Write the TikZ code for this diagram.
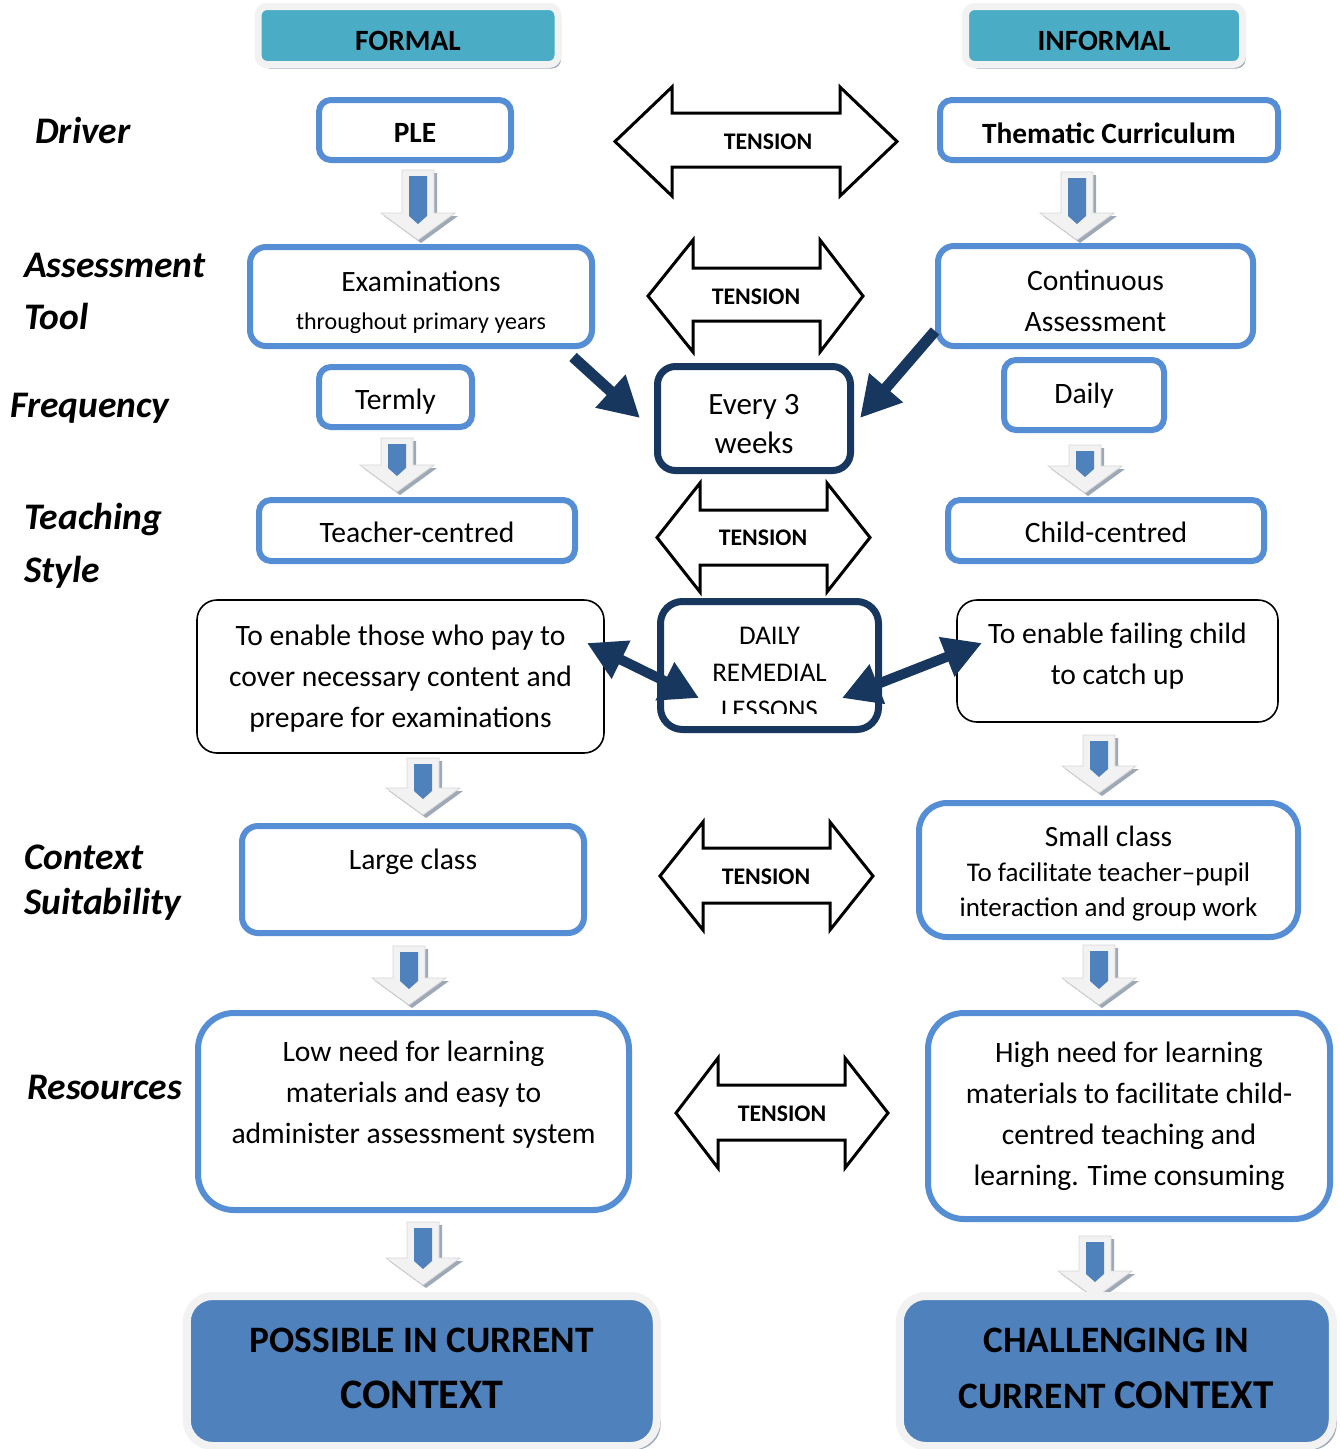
\documentclass[tikz,border=0pt]{standalone}
\usepackage{fontspec}
\setmainfont{Carlito}
\usetikzlibrary{arrows.meta,shadows}
\definecolor{bblue}{HTML}{558ED5}
\definecolor{navy}{HTML}{17375E}
\definecolor{tealhdr}{HTML}{4BACC6}
\definecolor{fillblue}{HTML}{4F81BD}
\definecolor{shgrey}{HTML}{9EA9B8}
\definecolor{lightg}{HTML}{F2F2F2}
\definecolor{edgeg}{HTML}{D6D6D6}
\newcommand\fs[2]{\fontsize{#1}{#2}\selectfont}
% down block arrow: centre x, top y, bottom y
\newcommand\dnarrow[3]{%
  \pgfmathsetmacro\dnL{#3-#2}%
  \pgfmathsetmacro\dnH{\dnL-27}%
  \begin{scope}[shift={(#1,#2)}]
    \fill[shgrey,shift={(3,3)}] (-16,0) -- (16,0) -- (16,\dnH) -- (37,\dnH) -- (0,\dnL) -- (-37,\dnH) -- (-16,\dnH) -- cycle;
    \filldraw[fill=lightg,draw=edgeg,line width=0.8pt] (-16,0) -- (16,0) -- (16,\dnH) -- (37,\dnH) -- (0,\dnL) -- (-37,\dnH) -- (-16,\dnH) -- cycle;
    \fill[fillblue] (-9,6) -- (9,6) -- (9,\dnL-24) -- (0,\dnL-16) -- (-9,\dnL-24) -- cycle;
  \end{scope}}
% double block arrow: xl, xr, ytop, ybot, shaft top, shaft bottom, notch left, notch right
\newcommand\tension[8]{%
  \pgfmathsetmacro\tm{(#3+#4)/2}%
  \draw[tens] (#1,\tm) -- (#7,#3) -- (#7,#5) -- (#8,#5) -- (#8,#3) -- (#2,\tm) -- (#8,#4) -- (#8,#6) -- (#7,#6) -- (#7,#4) -- cycle;}
\begin{document}
\begin{tikzpicture}[x=1pt,y=-1pt,
  bbox/.style={draw=bblue,line width=6pt,rounded corners=12pt,fill=white,inner sep=0pt},
  nbox/.style={draw=navy,line width=7pt,rounded corners=18pt,fill=white,inner sep=0pt},
  kbox/.style={draw=black,line width=1.6pt,rounded corners=20pt,fill=white,inner sep=0pt},
  hdr/.style={fill=tealhdr,draw=lightg,line width=7pt,rounded corners=9pt,inner sep=0pt,
    drop shadow={shadow xshift=3pt,shadow yshift=-4pt,fill=shgrey,opacity=1}},
  bot/.style={fill=fillblue,draw=lightg,line width=8pt,rounded corners=26pt,inner sep=0pt,
    drop shadow={shadow xshift=4pt,shadow yshift=-4pt,fill=shgrey,opacity=1}},
  lbl/.style={anchor=base west,inner sep=0pt,font=\bfseries\itshape\fs{37.5}{40}},
  txt/.style={inner sep=0pt,align=center,font=\fs{29.6}{41}},
  btxt/.style={inner sep=0pt,align=center,font=\bfseries\fs{29.4}{35}},
  bigtxt/.style={inner sep=0pt,align=center,font=\bfseries\fs{37.3}{56}},
  tens/.style={draw=black,fill=white,line width=3pt,line join=miter},
  tlabel/.style={inner sep=0pt,font=\bfseries\fs{23.8}{28}},
  darr/.style={draw=navy,line width=11pt,-{Triangle[length=40pt,width=42pt]}},
  ddarr/.style={draw=navy,line width=10pt,{Triangle[length=38pt,width=40pt]}-{Triangle[length=38pt,width=40pt]}}
]
\useasboundingbox (0,0) rectangle (1340,1449);
\fill[white] (0,0) rectangle (1340,1449);

% headers
\node[hdr,minimum width=300,minimum height=58] (formal) at (408,35.5) {};
\node[btxt] (formaltext) at (408,40.5) {FORMAL};
\node[hdr,minimum width=277,minimum height=58] (informal) at (1104,35.5) {};
\node[btxt] (informaltext) at (1104,40.5) {INFORMAL};

% row labels
\node[lbl] (ldriver) at (35,143) {Driver};
\node[lbl] (lassess) at (24,277) {Assessment};
\node[lbl] (ltool) at (24,329) {Tool};
\node[lbl] (lfreq) at (10,417) {Frequency};
\node[lbl] (lteach) at (24,529) {Teaching};
\node[lbl] (lstyle) at (24,582) {Style};
\node[lbl] (lcontext) at (24,869) {Context};
\node[lbl] (lsuit) at (24,914) {Suitability};
\node[lbl] (lres) at (27,1099) {Resources};

% down arrows
\dnarrow{418}{170}{240}
\dnarrow{1077}{172}{240}
\dnarrow{397}{438}{492}
\dnarrow{1085}{445}{493}
\dnarrow{423}{758}{815}
\dnarrow{1099}{735}{793}
\dnarrow{409}{946}{1005}
\dnarrow{1099}{945}{1005}
\dnarrow{423}{1222}{1285}
\dnarrow{1095}{1236}{1298}

% driver row
\node[bbox,minimum width=192,minimum height=60] (ple) at (415,130) {};
\node[btxt] (pletext) at (415,133) {PLE};
\node[bbox,minimum width=338,minimum height=60] (thematic) at (1109,130) {};
\node[btxt] (thematictext) at (1109,133) {Thematic Curriculum};
\tension{615}{897}{87}{196}{113}{167}{672}{840}
\node[tlabel] (t1) at (768,142) {TENSION};

% assessment row
\node[bbox,minimum width=342,minimum height=99,rounded corners=16pt] (exam) at (421,296.5) {};
\node[txt,font=\fs{29.5}{38}] (examtext) at (421,302.5) {Examinations\\{\fs{24}{38}throughout primary years}};
\node[bbox,minimum width=315,minimum height=100,rounded corners=16pt] (cont) at (1095.5,296) {};
\node[txt] (conttext) at (1095.5,300.5) {Continuous\\Assessment};
\tension{648}{863}{240}{352}{268}{321}{693}{820}
\node[tlabel] (t2) at (756,297) {TENSION};

% frequency row
\node[bbox,minimum width=153,minimum height=60] (termly) at (395.5,397) {};
\node[txt] (termlytext) at (395.5,402) {Termly};
\node[nbox,minimum width=193,minimum height=104] (every) at (754,418.5) {};
\node[txt,font=\fs{31}{39}] (everytext) at (754,424) {Every 3\\weeks};
\node[bbox,minimum width=160,minimum height=70] (daily) at (1084,395) {};
\node[txt] (dailytext) at (1084,396) {Daily};
\coordinate (a1s) at (573,357);
\coordinate (a1e) at (640,418);
\coordinate (a2s) at (935,331);
\coordinate (a2e) at (860,418);
\draw[darr] (a1s) -- (a1e);
\draw[darr] (a2s) -- (a2e);

% teaching style row
\node[bbox,minimum width=316,minimum height=61] (teacher) at (417,530.5) {};
\node[txt] (teachertext) at (417,532.5) {Teacher-centred};
\node[bbox,minimum width=316,minimum height=61] (child) at (1106,530.5) {};
\node[txt] (childtext) at (1106,532.5) {Child-centred};
\tension{657}{870}{483}{592}{510}{565}{700}{827}
\node[tlabel] (t3) at (763,538) {TENSION};

% remedial row
\node[kbox,minimum width=407,minimum height=153] (pay) at (400.5,676.5) {};
\node[txt] (paytext) at (400.5,678.5) {To enable those who pay to\\cover necessary content and\\prepare for examinations};
\node[nbox,minimum width=218,minimum height=128,rounded corners=22pt] (remedial) at (769.5,665.5) {};
\begin{scope}
  \clip (662,603) rectangle (877,713);
  \node[txt,font=\fs{27}{37}] (remtext) at (769.5,673) {DAILY\\REMEDIAL\\LESSONS};
\end{scope}
\node[kbox,minimum width=321,minimum height=122] (fail) at (1117.5,661) {};
\node[txt] (failtext) at (1117.5,656) {To enable failing child\\to catch up};
\coordinate (d1a) at (587,643);
\coordinate (d1b) at (699,698);
\coordinate (d2a) at (842,698);
\coordinate (d2b) at (982,643);
\draw[ddarr] (d1a) -- (d1b);
\draw[ddarr] (d2a) -- (d2b);

% context row
\node[bbox,minimum width=342,minimum height=107,rounded corners=16pt] (large) at (413,879.5) {};
\node[txt] (largetext) at (413,862) {Large class};
\node[bbox,minimum width=379,minimum height=134,rounded corners=28pt] (small) at (1108.5,870) {};
\node[txt,font=\fs{29.4}{35}] (smalltext) at (1108.5,874)
  {Small class\\{\fs{27}{35}To facilitate teacher\textendash pupil}\\{\fs{27}{34}interaction and group work}};
\tension{660}{873}{822}{930}{848}{903}{703}{830}
\node[tlabel] (t4) at (766,877) {TENSION};

% resources row
\node[bbox,minimum width=431,minimum height=197,rounded corners=36pt] (low) at (413.5,1111.5) {};
\node[txt] (lowtext) at (413.5,1095) {Low need for learning\\materials and easy to\\administer assessment system};
\node[bbox,minimum width=402,minimum height=206,rounded corners=36pt] (high) at (1129,1116) {};
\node[txt] (hightext) at (1129,1116.5)
  {High need for learning\\materials to facilitate child-\\centred teaching and\\learning. Time consuming};
\tension{676}{888}{1058}{1168}{1085}{1140}{718}{845}
\node[tlabel] (t5) at (782,1114) {TENSION};

% outcome boxes
\node[bot,minimum width=470,minimum height=150] (possible) at (421.75,1371) {};
\node[bigtxt] (possibletext) at (421.75,1368.5) {POSSIBLE IN CURRENT\\{\fs{42}{56}CONTEXT}};
\node[bot,minimum width=433,minimum height=150] (challenging) at (1116.25,1371) {};
\node[bigtxt] (challengingtext) at (1116.25,1368.5) {CHALLENGING IN\\CURRENT {\fs{41}{56}CONTEXT}};
\end{tikzpicture}
\end{document}
